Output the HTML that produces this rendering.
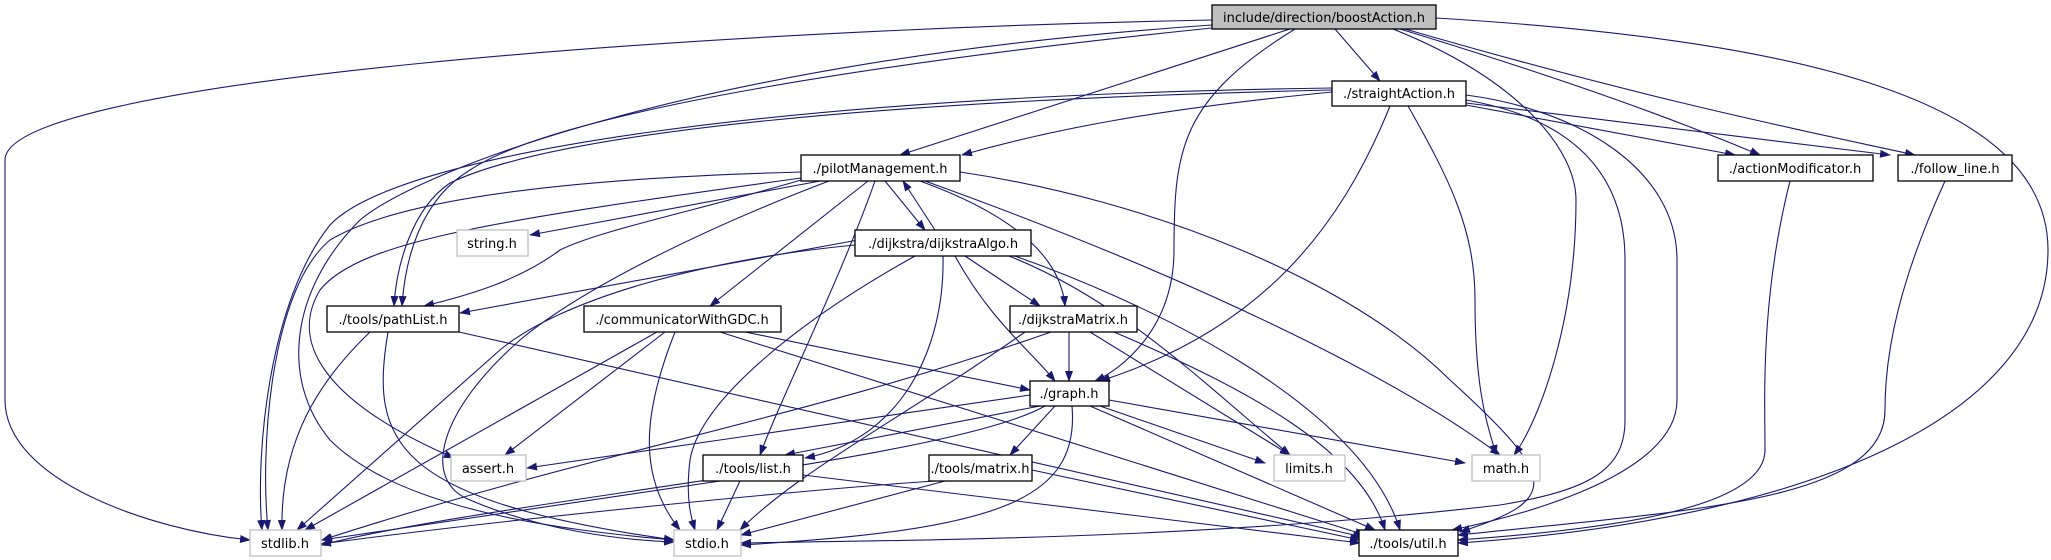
<!DOCTYPE html>
<html><head><meta charset="utf-8"><style>
html,body{margin:0;padding:0;background:#fff;}
svg{display:block;}
text{font-family:"DejaVu Sans","Liberation Sans",sans-serif;font-size:13px;fill:#000;}
.e{fill:none;stroke:#191970;stroke-width:1.1;marker-end:url(#a);}
.n{fill:#fff;stroke:#000;stroke-width:1.3;}
.g{fill:#fff;stroke:#bfbfbf;stroke-width:1.3;}
</style></head><body>
<svg width="2051" height="560" viewBox="0 0 2051 560" xmlns="http://www.w3.org/2000/svg">
<defs><marker id="a" markerWidth="11" markerHeight="8" refX="10" refY="4" orient="auto" markerUnits="userSpaceOnUse"><path d="M0,0 L11,4 L0,8 z" fill="#191970"/></marker></defs>
<g>
<path class="e" d="M1212,20 C700,30 5,80 5,160 L5,400 C5,480 150,530 250,540"/>
<path class="e" d="M1212,25 C700,60 420,170 360,220 C290,290 280,380 330,440 C400,510 560,530 674,540"/>
<path class="e" d="M1212,28 C900,60 560,110 470,170 C420,200 405,260 402,306"/>
<path class="e" d="M1290,29 L900,155"/>
<path class="e" d="M1295,29 C1180,100 1174,150 1174,250 C1174,330 1120,370 1095,381"/>
<path class="e" d="M1335,29 L1380,81"/>
<path class="e" d="M1393,29 C1520,80 1576,150 1576,200 C1576,320 1540,420 1514,455"/>
<path class="e" d="M1400,29 C1600,90 1700,130 1760,155"/>
<path class="e" d="M1405,29 C1650,100 1800,130 1915,155"/>
<path class="e" d="M1436,18 C1800,40 2048,100 2048,250 C2048,420 1800,520 1458,543"/>

<path class="e" d="M1332,92 C1150,110 1050,130 962,155"/>
<path class="e" d="M1332,90 C900,100 560,130 450,183 C410,210 396,270 394,306"/>
<path class="e" d="M1332,88 C800,95 400,150 330,225 C270,300 255,450 262,530"/>
<path class="e" d="M1390,106 C1340,230 1260,330 1100,381"/>
<path class="e" d="M1408,106 C1450,180 1475,230 1475,300 C1475,400 1490,430 1496,455"/>
<path class="e" d="M1466,100 C1580,120 1625,180 1625,260 L1625,420 C1625,470 1590,490 1500,505 C1200,540 900,540 741,543"/>
<path class="e" d="M1466,95 C1580,110 1677,170 1677,260 L1677,400 C1677,480 1500,520 1452,530"/>
<path class="e" d="M1466,105 L1735,155"/>
<path class="e" d="M1466,103 L1890,155"/>

<path class="e" d="M820,181 L530,235"/>
<path class="e" d="M801,180 C700,210 600,230 560,250 C520,280 470,295 424,306"/>
<path class="e" d="M801,172 C500,180 380,210 330,240 C270,290 260,450 268,530"/>
<path class="e" d="M829,181 C700,230 580,290 520,340 C440,410 420,480 470,500 C540,530 620,540 674,542"/>
<path class="e" d="M801,178 C500,220 360,240 320,290 C290,340 320,400 454,458"/>
<path class="e" d="M868,181 L710,306"/>
<path class="e" d="M875,181 C840,280 780,400 760,455"/>
<path class="e" d="M885,181 L925,230"/>
<path class="e" d="M935,230 L903,181"/>
<path class="e" d="M920,181 C1000,210 1060,250 1065,306"/>
<path class="e" d="M925,181 C1200,280 1400,380 1500,455"/>
<path class="e" d="M960,172 C1150,200 1350,280 1450,380 C1560,480 1560,500 1460,532"/>

<path class="e" d="M858,240 L460,313"/>
<path class="e" d="M855,245 C700,260 560,300 500,350 L297,530"/>
<path class="e" d="M915,256 C800,320 700,400 690,460 C685,500 692,520 695,530"/>
<path class="e" d="M943,256 C945,350 900,440 805,458"/>
<path class="e" d="M955,256 C990,320 1030,350 1055,381"/>
<path class="e" d="M965,256 L1040,306"/>
<path class="e" d="M1009,256 C1120,300 1200,380 1290,455"/>
<path class="e" d="M1009,254 C1134,297 1360,400 1400,530"/>

<path class="e" d="M370,332 C320,380 280,440 282,530"/>
<path class="e" d="M388,332 C370,440 390,500 674,540"/>
<path class="e" d="M459,332 L1363,537"/>

<path class="e" d="M657,332 L305,530"/>
<path class="e" d="M665,332 L505,455"/>
<path class="e" d="M675,332 C640,420 640,480 680,530"/>
<path class="e" d="M745,332 L1030,390"/>
<path class="e" d="M720,332 L1365,535"/>

<path class="e" d="M1051,332 C800,420 600,450 322,540"/>
<path class="e" d="M1025,332 C900,420 800,470 740,530"/>
<path class="e" d="M1069,332 L1069,381"/>
<path class="e" d="M1090,332 L1290,455"/>
<path class="e" d="M1114,332 C1250,390 1360,450 1385,530"/>

<path class="e" d="M1030,395 L527,468"/>
<path class="e" d="M1040,406 L785,455"/>
<path class="e" d="M1045,406 C950,460 500,500 321,545"/>
<path class="e" d="M1072,406 C1080,500 1000,530 741,545"/>
<path class="e" d="M1055,406 L1010,455"/>
<path class="e" d="M1100,406 L1265,463"/>
<path class="e" d="M1109,400 L1465,463"/>
<path class="e" d="M1090,406 L1375,530"/>

<path class="e" d="M720,481 L322,540"/>
<path class="e" d="M740,481 L717,530"/>
<path class="e" d="M803,475 L1360,543"/>
<path class="e" d="M935,481 C800,490 500,520 321,544"/>
<path class="e" d="M945,481 L741,535"/>
<path class="e" d="M1032,470 L1360,540"/>
<path class="e" d="M1790,181 C1760,300 1765,400 1765,450 C1765,510 1600,530 1458,540"/>
<path class="e" d="M1945,181 C1900,280 1885,350 1885,410 C1885,500 1700,510 1458,535"/>
</g>
<g>
<rect x="1212" y="5" width="224" height="24" fill="#bfbfbf" stroke="#000" stroke-width="1.3"/><text x="1324" y="22" text-anchor="middle">include/direction/boostAction.h</text>
<rect class="n" x="1332" y="81" width="134" height="25"/><text x="1399" y="98" text-anchor="middle">./straightAction.h</text>
<rect class="n" x="801" y="155" width="159" height="26"/><text x="880" y="173" text-anchor="middle">./pilotManagement.h</text>
<rect class="n" x="855" y="230" width="176" height="26"/><text x="943" y="248" text-anchor="middle">./dijkstra/dijkstraAlgo.h</text>
<rect class="g" x="457" y="230" width="71" height="26"/><text x="492" y="248" text-anchor="middle">string.h</text>
<rect class="n" x="327" y="306" width="132" height="26"/><text x="393" y="324" text-anchor="middle">./tools/pathList.h</text>
<rect class="n" x="584" y="306" width="197" height="26"/><text x="682" y="324" text-anchor="middle">./communicatorWithGDC.h</text>
<rect class="n" x="1010" y="306" width="127" height="26"/><text x="1073" y="324" text-anchor="middle">./dijkstraMatrix.h</text>
<rect class="n" x="1030" y="381" width="79" height="25"/><text x="1069" y="398" text-anchor="middle">./graph.h</text>
<rect class="g" x="451" y="455" width="75" height="26"/><text x="488" y="473" text-anchor="middle">assert.h</text>
<rect class="n" x="703" y="455" width="100" height="26"/><text x="753" y="473" text-anchor="middle">./tools/list.h</text>
<rect class="n" x="929" y="455" width="103" height="26"/><text x="980" y="473" text-anchor="middle">./tools/matrix.h</text>
<rect class="g" x="1274" y="455" width="71" height="26"/><text x="1309" y="473" text-anchor="middle">limits.h</text>
<rect class="g" x="1472" y="455" width="68" height="26"/><text x="1506" y="473" text-anchor="middle">math.h</text>
<rect class="g" x="250" y="530" width="71" height="26"/><text x="285" y="548" text-anchor="middle">stdlib.h</text>
<rect class="g" x="674" y="530" width="67" height="26"/><text x="707" y="548" text-anchor="middle">stdio.h</text>
<rect class="n" x="1359" y="530" width="99" height="26"/><text x="1408" y="548" text-anchor="middle">./tools/util.h</text>
<rect class="n" x="1718" y="155" width="155" height="26"/><text x="1795" y="173" text-anchor="middle">./actionModificator.h</text>
<rect class="n" x="1898" y="155" width="114" height="26"/><text x="1955" y="173" text-anchor="middle">./follow_line.h</text>
</g>
</svg>
</body></html>
